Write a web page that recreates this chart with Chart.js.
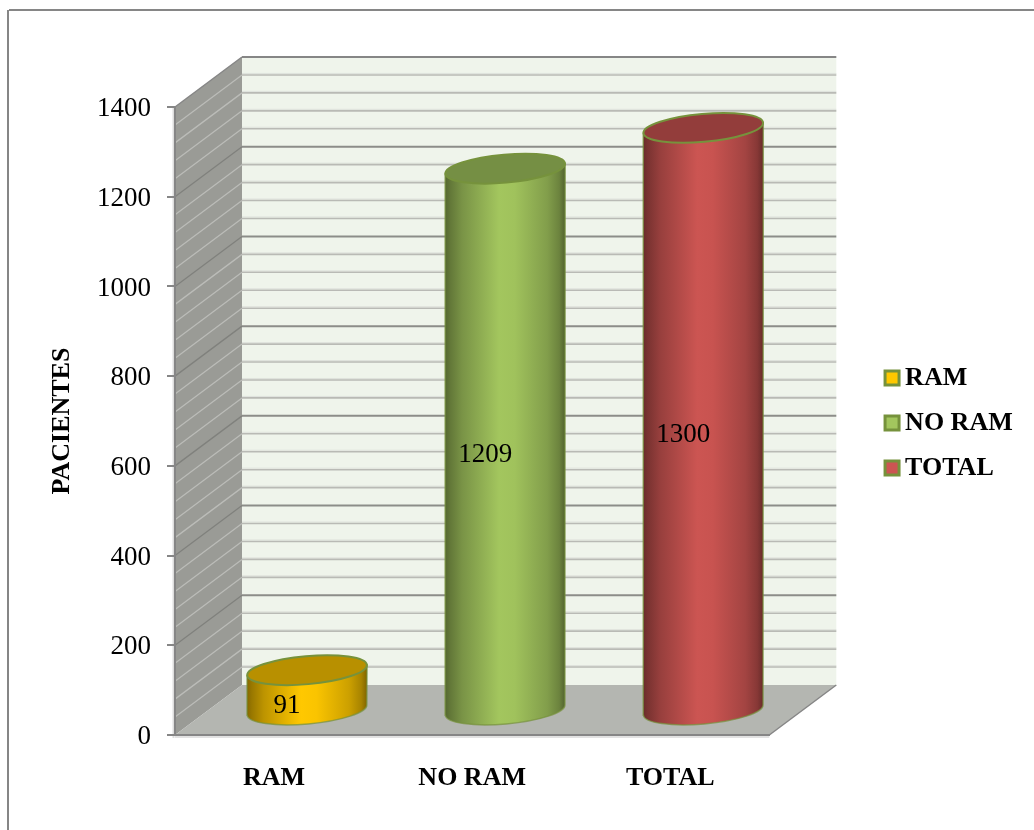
<!DOCTYPE html>
<html>
<head>
<meta charset="utf-8">
<style>html,body{margin:0;padding:0;background:#fff}canvas{display:block}</style>
<script src="https://cdn.jsdelivr.net/npm/chart.js@4/dist/chart.umd.js"></script>
</head>
<body>
<div style="width:1034px;height:830px"><canvas id="c" width="1034" height="830"></canvas></div>
<script>
const categories = ['RAM', 'NO RAM', 'TOTAL'];
const patients = [91, 1209, 1300];
const barColors = ['#FFC800', '#A3C65E', '#CC5552'];
const yMax = 1400;
const yStep = 200;
const wallStep = 40;
const axisTitle = 'PACIENTES';

const OUTLINE = '#76923C';
const AXIS = '#868686';
const SERIF = '"Liberation Serif", serif';
// Oblique offset of the rear plane of the 3D box, and of the bars sitting halfway inside it.
const DEPTH = { x: 67, y: -50 };
const BAR_SHIFT = { x: 33, y: -24 };
const TILT = -0.088;
const RY = 14;

function shade(hex, f) {
  const n = parseInt(hex.slice(1), 16);
  const ch = s => Math.round(Math.min(255, ((n >> s) & 255) * f));
  return `rgb(${ch(16)},${ch(8)},${ch(0)})`;
}

// Bar element that paints a tilted cylinder in place of a flat rectangle.
class CylinderElement extends Chart.BarElement {
  static id = 'cylinder';
  static defaults = Chart.BarElement.defaults;
  draw(ctx) {
    const { x, y, base, width } = this.getProps(['x', 'y', 'base', 'width']);
    const color = this.options.backgroundColor;
    const cx = x + BAR_SHIFT.x, top = y + BAR_SHIFT.y, bot = base + BAR_SHIFT.y;
    const rx = width / 2;
    const dy = rx * Math.sin(TILT);
    const g = ctx.createLinearGradient(cx - rx, 0, cx + rx, 0);
    [[0, .52], [.04, .6], [.14, .74], [.45, 1], [.58, .98], [.85, .8], [.95, .66], [1, .5]]
      .forEach(([p, f]) => g.addColorStop(p, shade(color, f)));
    ctx.save();
    ctx.beginPath();
    ctx.moveTo(cx - rx, top - dy);
    ctx.lineTo(cx - rx, bot - dy);
    ctx.ellipse(cx, bot, rx, RY, TILT, Math.PI, 0, true);
    ctx.lineTo(cx + rx, top + dy);
    ctx.closePath();
    ctx.fillStyle = g;
    ctx.fill();
    ctx.lineWidth = 1.5;
    ctx.strokeStyle = 'rgba(118,146,60,.7)';
    ctx.stroke();
    ctx.beginPath();
    ctx.ellipse(cx, top, rx, RY, TILT, 0, Math.PI * 2);
    ctx.fillStyle = shade(color, .72);
    ctx.fill();
    ctx.lineWidth = 2;
    ctx.strokeStyle = OUTLINE;
    ctx.stroke();
    ctx.restore();
  }
}

class CylinderController extends Chart.BarController {
  static id = 'cylinder';
  static defaults = { dataElementType: 'cylinder' };
  static overrides = Chart.BarController.overrides;
}
Chart.register(CylinderElement, CylinderController);

// Frame, walls and floor of the box, laid out from the value and category scales.
const boxPlugin = {
  id: 'box',
  beforeDraw(chart) {
    const { ctx, chartArea: a, scales: { y } } = chart;
    const line = (x0, y0, x1, y1, color, w) => {
      ctx.beginPath(); ctx.moveTo(x0, y0); ctx.lineTo(x1, y1);
      ctx.strokeStyle = color; ctx.lineWidth = w; ctx.stroke();
    };
    const poly = (pts, color) => {
      ctx.beginPath();
      pts.forEach(([px, py], i) => i ? ctx.lineTo(px, py) : ctx.moveTo(px, py));
      ctx.closePath(); ctx.fillStyle = color; ctx.fill();
    };
    const L = a.left, R = a.right, T = a.top, B = a.bottom;
    const dx = DEPTH.x, dz = DEPTH.y;
    ctx.save();
    line(9, 10, chart.width, 10, AXIS, 2);
    line(8, 10, 8, chart.height, AXIS, 2);
    poly([[L + dx, T + dz], [R + dx, T + dz], [R + dx, B + dz], [L + dx, B + dz]], '#EFF4EB');
    poly([[L, T], [L + dx, T + dz], [L + dx, B + dz], [L, B]], '#9A9B96');
    poly([[L, B], [R, B], [R + dx, B + dz], [L + dx, B + dz]], '#B4B6B1');
    for (let v = wallStep; v < yMax; v += wallStep) {
      if (v % yStep === 0) continue;
      const p = y.getPixelForValue(v);
      line(L + dx, p + dz - 1.5, R + dx, p + dz - 1.5, '#DFE2DC', 1);
      line(L + dx, p + dz, R + dx, p + dz, '#B9BAB5', 1.6);
      line(L, p, L + dx, p + dz, '#BBBCB8', 1.3);
    }
    for (let v = yStep; v < yMax; v += yStep) {
      const p = y.getPixelForValue(v);
      line(L + dx, p + dz, R + dx, p + dz, '#8C8D89', 2);
      line(L, p, L + dx, p + dz, '#80817D', 1.3);
    }
    line(L + dx, T + dz, R + dx, T + dz, AXIS, 2);
    line(L, T, L + dx, T + dz, AXIS, 1.5);
    line(R, B, R + dx, B + dz, AXIS, 1.5);
    line(L - 1.5, T, L - 1.5, B + 3, '#DEDEDE', 2);
    line(L, B + 2, R, B + 2, '#E2E2E2', 2);
    ctx.restore();
  }
};

// Value printed on each cylinder, and the legend moved to its place on the right.
const labelPlugin = {
  id: 'barValues',
  afterLayout(chart) {
    const lg = chart.legend, w = lg.width, h = lg.height;
    lg.left = 873; lg.right = lg.left + w;
    lg.top = 346; lg.bottom = lg.top + h;
  },
  afterDatasetsDraw(chart) {
    const { ctx } = chart;
    ctx.save();
    ctx.font = '27px ' + SERIF;
    ctx.fillStyle = '#000';
    ctx.textAlign = 'center';
    ctx.textBaseline = 'middle';
    chart.getDatasetMeta(0).data.forEach((bar, i) => {
      const mid = (bar.y + bar.base) / 2 + BAR_SHIFT.y;
      ctx.fillText(String(patients[i]), bar.x + BAR_SHIFT.x - 20, mid + 16);
    });
    ctx.restore();
  }
};

new Chart(document.getElementById('c'), {
  type: 'cylinder',
  data: {
    labels: categories,
    datasets: [{
      data: patients,
      backgroundColor: barColors,
      categoryPercentage: 1,
      barPercentage: 0.606,
      clip: false
    }]
  },
  plugins: [boxPlugin, labelPlugin],
  options: {
    responsive: false,
    animation: false,
    layout: { padding: { top: 107, right: 115, left: 0, bottom: 0 } },
    plugins: {
      tooltip: { enabled: false },
      title: { display: false },
      legend: {
        position: 'right',
        align: 'start',
        labels: {
          font: { family: SERIF, size: 26, weight: 'bold' },
          color: '#000',
          usePointStyle: true,
          boxWidth: 0.1,
          boxHeight: 14,
          padding: 19,
          generateLabels: () => categories.map((text, i) => ({
            text,
            fillStyle: barColors[i],
            strokeStyle: OUTLINE,
            lineWidth: 3,
            pointStyle: 'rect',
            index: i
          }))
        }
      }
    },
    scales: {
      x: {
        type: 'category',
        grid: { display: false },
        border: { color: AXIS, width: 2 },
        ticks: { font: { family: SERIF, size: 26, weight: 'bold' }, color: '#000', padding: 20, maxRotation: 0 },
        afterFit: s => { s.height = 95; }
      },
      y: {
        min: 0,
        max: yMax,
        ticks: {
          stepSize: yStep,
          font: { family: SERIF, size: 27 },
          color: '#000',
          padding: 16,
          labelOffset: 2,
          callback: v => String(v)
        },
        grid: { drawOnChartArea: false, color: AXIS, tickLength: 8, lineWidth: 2 },
        border: { color: AXIS, width: 2 },
        title: {
          display: true,
          text: axisTitle,
          color: '#000',
          font: { family: SERIF, size: 26, weight: 'bold' },
          padding: { top: 47, bottom: 0 }
        },
        afterFit: s => { s.width = 175; }
      }
    }
  }
});
</script>
</body>
</html>
